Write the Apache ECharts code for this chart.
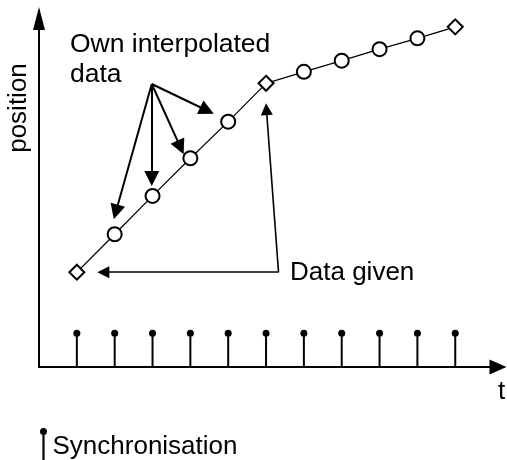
<!DOCTYPE html>
<html>
<head>
<meta charset="utf-8">
<script src="https://cdn.jsdelivr.net/npm/echarts@6/dist/echarts.min.js"></script>
<style>
  html, body { margin: 0; padding: 0; background: #fff; }
  #chart { width: 507px; height: 460px; }
</style>
</head>
<body>
<div id="chart"></div>
<script>
// time steps (sync points) and the position of the trajectory at each step
const tSteps = [1, 2, 3, 4, 5, 6, 7, 8, 9, 10, 11];
const position = [27.2, 38.1, 49.1, 59.9, 70.4, 81.4, 84.7, 87.9, 91.2, 94.3, 97.6];
// which points come from the given data (diamonds), the rest are own interpolated ones
const isGiven = [true, false, false, false, false, true, false, false, false, false, true];
// height of the synchronisation pins
const syncHeight = [9.7, 9.7, 9.7, 9.7, 9.7, 9.7, 9.7, 9.7, 9.7, 9.7, 9.7];

// annotation arrows, [from, to] in data units
const ownArrows = [
  [[2.98, 81.2], [2.03, 44.5]],
  [[2.98, 81.2], [2.98, 54.1]],
  [[2.98, 81.2], [3.74, 63.0]],
  [[2.98, 81.2], [4.44, 73.6]]
];
const givenArrows = [
  [[6.33, 27.2], [1.70, 27.2]],
  [[6.33, 27.2], [6.01, 74.0]]
];

const font = 'Liberation Sans, Arial, sans-serif';

let myChart = echarts.init(document.getElementById('chart'));

myChart.setOption({
  animation: false,
  grid: {
    left: 39,
    right: 9,
    top: 18.5,
    bottom: 93
  },
  legend: {
    data: ['Synchronisation'],
    left: 35,
    top: 423,
    itemWidth: 8,
    itemHeight: 38,
    icon: 'path://M0.5,3.5a3.5,3.5 0 1,1 7,0a3.5,3.5 0 1,1 -7,0zM2.9,4h2.2v34h-2.2z',
    itemStyle: { color: '#000', borderWidth: 0, opacity: 1 },
    textStyle: {
      fontFamily: font,
      fontSize: 26,
      color: '#000',
      padding: [0, 0, 0, 0]
    }
  },
  xAxis: {
    type: 'value',
    min: 0,
    max: 12.13,
    axisLine: {
      lineStyle: { color: '#000', width: 2 },
      symbol: ['none', 'triangle'],
      symbolSize: [15, 17]
    },
    axisTick: { show: false },
    axisLabel: { show: false },
    splitLine: { show: false }
  },
  yAxis: {
    type: 'value',
    min: 0,
    max: 100,
    axisLine: {
      show: true,
      lineStyle: { color: '#000', width: 2 },
      symbol: ['none', 'triangle'],
      symbolSize: [12, 23]
    },
    axisTick: { show: false },
    axisLabel: { show: false },
    splitLine: { show: false }
  },
  graphic: [
    {
      type: 'text',
      x: 19,
      y: 108,
      rotation: Math.PI / 2,
      style: {
        text: 'position',
        fontFamily: font,
        fontSize: 26,
        fill: '#000',
        align: 'center',
        verticalAlign: 'middle'
      }
    },
    {
      type: 'text',
      x: 501.5,
      y: 392,
      style: {
        text: 't',
        fontFamily: font,
        fontSize: 26,
        fill: '#000',
        align: 'center',
        verticalAlign: 'middle'
      }
    },
    {
      type: 'text',
      x: 70,
      y: 30,
      style: {
        text: 'Own interpolated\ndata',
        fontFamily: font,
        fontSize: 26.5,
        lineHeight: 30,
        fill: '#000',
        align: 'left',
        verticalAlign: 'top'
      }
    },
    {
      type: 'text',
      x: 290,
      y: 273,
      style: {
        text: 'Data given',
        fontFamily: font,
        fontSize: 26,
        fill: '#000',
        align: 'left',
        verticalAlign: 'middle'
      }
    }
  ],
  series: [
    {
      name: 'stems',
      type: 'bar',
      barWidth: 2,
      itemStyle: { color: '#000' },
      data: tSteps.map((t, i) => [t, syncHeight[i]])
    },
    {
      name: 'Synchronisation',
      type: 'scatter',
      symbol: 'circle',
      symbolSize: 7,
      itemStyle: { color: '#000', opacity: 1 },
      data: tSteps.map((t, i) => [t, syncHeight[i]])
    },
    {
      name: 'arrows own',
      type: 'lines',
      coordinateSystem: 'cartesian2d',
      symbol: ['none', 'triangle'],
      symbolSize: [7, 15],
      lineStyle: { color: '#000', width: 2, opacity: 1 },
      data: ownArrows.map(a => ({ coords: a }))
    },
    {
      name: 'arrows given',
      type: 'lines',
      coordinateSystem: 'cartesian2d',
      symbol: ['none', 'triangle'],
      symbolSize: [7, 12],
      lineStyle: { color: '#000', width: 1.6, opacity: 1 },
      data: givenArrows.map(a => ({ coords: a }))
    },
    {
      name: 'position',
      type: 'line',
      z: 5,
      lineStyle: { color: '#000', width: 1.2 },
      itemStyle: { color: '#fff', borderColor: '#000', borderWidth: 2 },
      data: tSteps.map((t, i) => ({
        value: [t, position[i]],
        symbol: isGiven[i] ? 'diamond' : 'circle',
        symbolSize: isGiven[i] ? 15 : 14
      }))
    }
  ]
});
</script>
</body>
</html>
